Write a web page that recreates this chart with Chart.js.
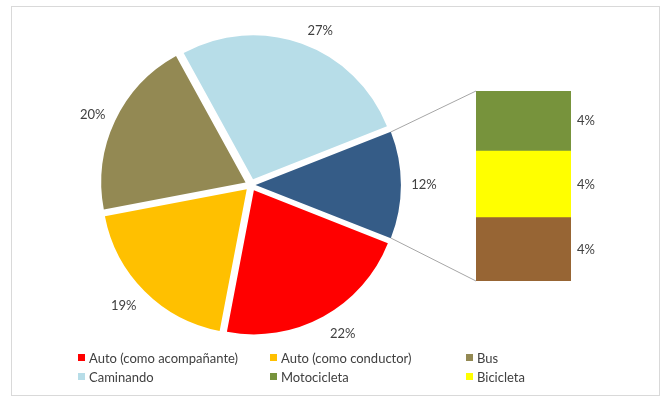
<!DOCTYPE html>
<html lang="es">
<head>
<meta charset="utf-8">
<title>Modo de transporte</title>
<script src="https://cdn.jsdelivr.net/npm/chart.js@4.4.1/dist/chart.umd.min.js"></script>
<style>
  body { margin: 0; background: #fff; }
  #wrap { position: relative; width: 661px; height: 396px; overflow: hidden; }
  #frame {
    position: absolute; left: 11px; top: 6px; width: 647px; height: 388px;
    border: 1px solid #d9d9d9;
  }
  #wrap canvas { position: absolute; left: 0; top: 0; }
  #legend {
    position: absolute; left: 78px; top: 348px; width: 560px; height: 38px;
    overflow: hidden;
    display: grid; grid-template-columns: 192px 196px 150px; grid-auto-rows: 19px;
    font: 13px Lato, sans-serif; color: #404040;
  }
  #legend span { display: flex; align-items: center; white-space: nowrap; }
  #legend i { display: inline-block; width: 7px; height: 7px; margin-right: 4px; }
</style>
</head>
<body>
<div id="wrap">
  <div id="frame"></div>
  <canvas id="pieCanvas" width="661" height="396"></canvas>
  <canvas id="barCanvas" width="661" height="396"></canvas>
  <div id="legend"></div>
</div>

<script>
/* ================= DATA ================= */
const pieLabels = ["Auto (como acompañante)", "Auto (como conductor)", "Bus", "Caminando"];
const pieValues = [22, 19, 20, 27];
const pieColors = ["#ff0000", "#ffc000", "#938953", "#b7dde8"];

// slices grouped into the side bar
const barLabels = ["Motocicleta", "Bicicleta", "Otro"];
const barValues = [3.8, 4.2, 4.0];
const barColors = ["#77933c", "#ffff00", "#976534"];

const otherLabel = "Otros";
const otherColor = "#355c87";

const labelFont = "13px Lato, sans-serif";
const textColor = "#404040";

/* ================= PIE ================= */
const otherValue = barValues.reduce((s, v) => s + v, 0);

// grouped slice goes first so it can be centred on the right side
const slices = [otherValue, ...pieValues];
const sliceColors = [otherColor, ...pieColors];
const sliceNames = [otherLabel, ...pieLabels];

// distance a slice is pushed out, same maths as ArcElement.draw
function explode(arc) {
  const off = (arc.options.offset || 0) / 4;
  const fix = 1 - Math.sin(Math.min(Math.PI, arc.endAngle - arc.startAngle));
  return off * (1 + fix);
}

const pieLabelsPlugin = {
  id: "pieLabels",
  afterDatasetsDraw(chart) {
    const ctx = chart.ctx;
    const meta = chart.getDatasetMeta(0);
    ctx.save();
    ctx.font = labelFont;
    ctx.fillStyle = textColor;
    ctx.textAlign = "center";
    ctx.textBaseline = "middle";
    meta.data.forEach((arc, i) => {
      const mid = (arc.startAngle + arc.endAngle) / 2;
      const cos = Math.cos(mid), sin = Math.sin(mid);
      const r = arc.outerRadius + explode(arc);
      const ex = arc.x + cos * r;
      const ey = arc.y + sin * r;
      const x = ex + (cos >= 0 ? 16 : -16) + cos * 7;
      const y = ey + sin * (sin > 0 ? 20 : 14);
      ctx.fillText(Math.round(slices[i]) + "%", x, y);
    });
    ctx.restore();
  }
};

const pieChart = new Chart(document.getElementById("pieCanvas"), {
  type: "pie",
  data: {
    labels: sliceNames,
    datasets: [{
      data: slices,
      backgroundColor: sliceColors,
      borderWidth: 0,
      offset: [18, 24, 24, 24, 24]
    }]
  },
  options: {
    responsive: false,
    animation: false,
    events: [],
    radius: 144,
    rotation: 90 - (otherValue / 100) * 180,
    layout: { padding: { left: 101, right: 260, top: 35, bottom: 61 } },
    plugins: { legend: { display: false }, tooltip: { enabled: false } }
  },
  plugins: [pieLabelsPlugin]
});

/* ================= SIDE BAR ================= */
const barLabelsPlugin = {
  id: "barLabels",
  afterDatasetsDraw(chart) {
    const ctx = chart.ctx;
    ctx.save();
    ctx.font = labelFont;
    ctx.fillStyle = textColor;
    ctx.textAlign = "center";
    ctx.textBaseline = "middle";
    chart.data.datasets.forEach((ds, i) => {
      const bar = chart.getDatasetMeta(i).data[0];
      ctx.fillText(Math.round(ds.data[0]) + "%", bar.x + bar.width / 2 + 15, (bar.y + bar.base) / 2);
    });
    ctx.restore();
  }
};

// gray lines joining the grouped slice to the bar
const connectorPlugin = {
  id: "connector",
  afterDraw(chart) {
    const arc = pieChart.getDatasetMeta(0).data[0];
    const mid = (arc.startAngle + arc.endAngle) / 2;
    const s = explode(arc);
    const cx = arc.x + Math.cos(mid) * s;
    const cy = arc.y + Math.sin(mid) * s;
    const R = arc.outerRadius;

    const n = chart.data.datasets.length;
    const top = chart.getDatasetMeta(n - 1).data[0];
    const bottom = chart.getDatasetMeta(0).data[0];
    const left = top.x - top.width / 2;

    const ctx = chart.ctx;
    ctx.save();
    ctx.strokeStyle = "#a6a6a6";
    ctx.lineWidth = 1;
    ctx.beginPath();
    ctx.moveTo(cx + Math.cos(arc.startAngle) * R, cy + Math.sin(arc.startAngle) * R);
    ctx.lineTo(left, top.y);
    ctx.moveTo(cx + Math.cos(arc.endAngle) * R, cy + Math.sin(arc.endAngle) * R);
    ctx.lineTo(left, bottom.base);
    ctx.stroke();
    ctx.restore();
  }
};

// stacked from the bottom, so the list is walked backwards
const barDatasets = barLabels.map((label, i) => ({
  label,
  data: [barValues[i]],
  backgroundColor: barColors[i],
  borderWidth: 0,
  barPercentage: 1,
  categoryPercentage: 1
})).reverse();

new Chart(document.getElementById("barCanvas"), {
  type: "bar",
  data: { labels: [otherLabel], datasets: barDatasets },
  options: {
    responsive: false,
    animation: false,
    events: [],
    layout: { padding: { left: 476, right: 90, top: 91, bottom: 115 } },
    scales: {
      x: { display: false, stacked: true },
      y: { display: false, stacked: true, min: 0, max: otherValue }
    },
    plugins: { legend: { display: false }, tooltip: { enabled: false } }
  },
  plugins: [barLabelsPlugin, connectorPlugin]
});

/* ================= LEGEND ================= */
const legendItems = [
  ...pieLabels.map((t, i) => [t, pieColors[i]]),
  ...barLabels.map((t, i) => [t, barColors[i]])
];
const legendEl = document.getElementById("legend");
legendItems.forEach(([text, color]) => {
  const item = document.createElement("span");
  const box = document.createElement("i");
  box.style.background = color;
  item.appendChild(box);
  item.appendChild(document.createTextNode(text));
  legendEl.appendChild(item);
});
</script>
</body>
</html>
